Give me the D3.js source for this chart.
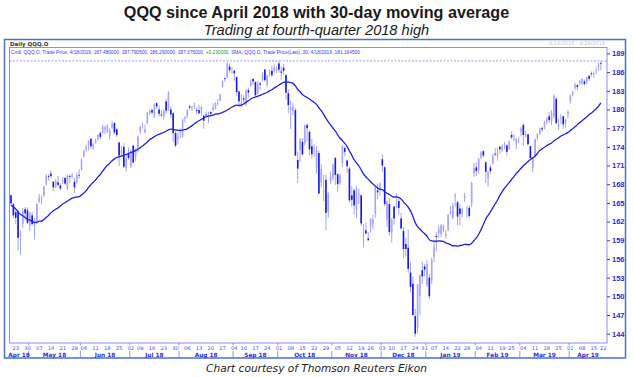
<!DOCTYPE html>
<html>
<head>
<meta charset="utf-8">
<script src="https://cdn.jsdelivr.net/npm/d3@7"></script>
<style>
  body { margin: 0; background: #fff; }
  svg { display: block; }
</style>
</head>
<body>
<div id="chart"></div>
<script>
// daily candles [open, high, low, close], one array per month
var apr18 = [
  [166.2,166.4,164.5,164.9],[164.8,165.0,162.5,163.0],[163.5,164.0,161.6,162.6],[163.6,163.8,157.3,159.4],
  [159.6,160.6,156.6,160.1],[161.6,164.2,161.0,163.7],[164.0,164.3,162.2,163.3],[163.8,164.3,161.6,161.8]
];
var may18 = [
  [161.3,163.6,160.5,163.4],[163.0,163.5,161.4,161.6],[161.3,162.6,159.1,162.2],[161.8,165.0,161.6,164.8],
  [165.2,166.5,165.0,165.9],[165.8,166.2,164.7,165.8],[166.2,167.7,165.9,167.6],[168.0,169.6,167.8,169.4],
  [169.3,169.6,168.6,169.2],[169.7,170.2,169.0,169.3],[168.4,168.5,166.9,167.5],[167.6,168.8,167.4,168.5],
  [168.3,169.3,167.6,167.9],[167.8,168.2,167.0,167.3],[168.5,169.1,168.0,168.6],[169.0,169.2,167.9,168.1],
  [167.3,169.5,167.1,169.4],[169.3,169.6,168.2,169.2],[169.2,169.8,168.9,169.5],[168.4,169.0,166.6,167.5],
  [168.3,169.8,168.1,169.4],[169.5,170.4,168.9,169.4]
];
var jun18 = [
  [170.3,172.1,170.2,172.0],[172.5,173.6,172.3,173.3],[173.6,174.3,173.2,174.0],[174.3,175.0,173.4,175.0],
  [175.3,175.4,173.6,174.1],[173.8,174.6,173.5,174.5],[174.7,175.3,174.5,175.0],[175.2,176.0,175.0,175.9],
  [176.2,176.5,175.2,175.6],[176.3,177.5,176.1,177.3],[176.8,177.4,176.0,177.1],[176.4,177.6,176.2,177.4],
  [175.8,177.0,175.2,176.6],[177.1,178.2,176.9,177.7],[177.8,178.0,176.0,176.3],[176.8,177.0,175.6,175.9],
  [174.7,174.8,170.9,172.6],[172.8,174.2,172.4,173.5],[174.0,174.6,170.6,170.8],[170.6,172.7,170.0,172.2],
  [173.0,173.9,171.9,172.2]
];
var jul18 = [
  [170.9,173.5,170.6,173.4],[174.2,174.3,171.3,171.5],[172.4,173.8,171.7,173.7],[173.6,175.8,173.1,175.6],
  [176.5,177.3,176.0,177.3],[177.6,177.9,176.9,177.6],[176.3,177.6,176.2,176.8],[177.8,179.6,177.6,179.5],
  [179.5,180.0,179.1,179.8],[179.9,180.1,179.2,179.5],[178.8,181.0,178.6,180.8],[181.0,181.1,180.1,180.5],
  [180.0,180.6,178.9,179.3],[179.2,179.9,178.8,179.1],[178.9,180.0,178.4,179.8],[181.3,181.7,179.3,179.8],
  [180.0,182.9,179.8,182.7],[180.0,180.5,178.6,179.2],[179.4,179.6,174.8,176.2],[176.2,176.5,173.9,174.2],
  [175.2,176.3,174.4,175.6]
];
var aug18 = [
  [176.3,176.9,175.4,176.4],[175.6,178.5,175.5,178.4],[178.6,178.9,177.9,178.8],[178.9,180.0,178.6,179.9],
  [180.5,180.8,180.0,180.3],[180.2,180.6,179.8,180.3],[180.4,181.1,180.1,180.6],[179.9,180.3,179.2,179.8],
  [179.9,180.7,179.2,179.4],[179.9,180.6,179.1,180.4],[179.0,179.2,176.9,178.2],[179.2,179.7,178.7,179.1],
  [178.8,179.6,177.8,179.1],[179.6,179.7,178.9,179.3],[179.9,181.0,179.7,180.3],[180.1,181.2,180.0,181.0],
  [181.0,181.7,180.6,181.0],[181.5,182.5,181.3,182.4],[183.6,184.7,183.5,184.5],[185.0,185.3,184.4,184.9],
  [185.2,187.6,185.0,187.3],[186.9,187.4,185.8,186.3],[186.3,186.8,185.7,186.4]
];
var sep18 = [
  [186.2,186.4,184.6,185.8],[185.2,185.3,182.2,182.8],[182.9,183.0,180.5,181.3],[180.6,182.5,180.4,181.0],
  [181.8,182.3,180.9,181.6],[180.8,183.3,180.5,183.0],[183.1,183.5,181.8,182.7],[183.8,184.8,183.6,184.5],
  [184.9,185.0,183.9,184.5],[184.4,184.5,182.0,182.3],[182.6,184.6,182.5,184.1],[184.2,184.4,183.1,184.0],
  [184.8,186.0,184.6,185.6],[186.4,186.5,184.5,184.7],[184.0,185.6,183.6,185.4],[185.8,186.4,185.3,186.1],
  [186.2,187.0,185.2,185.5],[186.1,187.2,185.9,186.7],[186.2,186.9,185.8,186.6]
];
var oct18 = [
  [187.4,187.8,185.9,186.4],[186.1,186.9,184.8,185.9],[186.7,187.3,185.6,186.2],[185.5,185.7,181.6,182.7],
  [182.6,183.2,179.4,180.7],[179.9,181.4,176.9,180.3],[179.8,181.1,179.1,180.4],[179.9,180.2,172.5,172.6],
  [171.9,173.2,168.2,170.5],[173.5,175.4,171.6,175.2],[174.8,175.4,172.6,172.8],[174.6,177.6,174.2,177.4],
  [177.5,177.8,174.9,177.0],[176.4,176.6,172.6,173.6],[174.1,175.3,172.1,172.8],[173.7,174.4,172.3,173.8],
  [170.6,174.2,169.7,173.4],[173.0,173.4,166.4,166.5],[168.3,171.2,167.6,170.4],[166.8,169.5,165.3,166.9],
  [168.7,169.5,160.6,163.4],[163.6,166.7,162.6,166.5],[168.5,170.0,168.0,169.2]
];
var nov18 = [
  [169.0,171.3,168.6,171.1],[172.2,172.4,167.9,169.5],[169.6,169.7,166.8,168.0],[168.2,169.7,167.9,169.4],
  [171.4,174.3,170.7,174.2],[173.8,174.1,172.5,173.2],[171.8,171.9,169.8,170.9],[170.5,170.8,165.1,165.4],
  [166.2,167.7,164.3,165.5],[167.0,167.3,163.1,164.6],[163.9,167.7,162.6,167.3],[166.3,167.3,164.8,166.4],
  [166.2,166.4,161.3,161.7],[159.0,161.6,157.8,159.1],[160.6,161.9,160.0,160.1],[159.3,160.3,158.9,159.0],
  [161.2,162.5,160.2,162.5],[161.7,163.1,160.8,162.4],[163.3,167.6,162.6,167.5],[167.0,168.1,165.6,166.7],
  [167.3,168.3,166.2,168.1]
];
var dec18 = [
  [172.0,172.8,170.0,171.0],[170.7,170.9,164.5,164.8],[162.3,165.4,161.1,165.2],[164.8,165.7,159.7,160.3],
  [160.2,162.6,158.6,162.2],[164.4,164.5,161.5,162.5],[164.3,166.5,164.1,164.6],[165.3,165.7,163.0,164.2],
  [162.5,163.4,160.7,160.9],[160.5,161.1,156.1,157.6],[158.4,159.4,156.4,157.6],[157.8,160.7,153.8,154.4],
  [153.8,155.5,150.6,151.5],[152.0,153.2,146.8,147.0],[146.8,148.0,143.5,144.0],[144.9,152.0,144.0,151.9],
  [150.0,153.5,147.0,153.4],[154.2,155.6,152.0,153.2],[154.8,155.2,153.2,154.3]
];
var jan19 = [
  [151.8,155.8,151.5,155.2],[153.0,153.6,149.6,150.0],[152.5,156.2,152.0,155.8],[156.3,158.9,155.5,157.9],
  [159.7,160.3,157.3,159.5],[160.1,161.4,159.4,160.8],[160.0,161.6,159.5,161.4],[160.6,161.5,160.3,161.3],
  [159.7,160.6,159.3,160.0],[160.6,163.2,160.5,163.1],[163.3,164.5,163.1,163.6],[162.6,165.0,162.4,164.6],
  [166.0,166.6,164.4,166.2],[165.1,165.3,161.4,162.8],[164.1,164.8,161.4,163.2],[163.3,164.2,162.7,164.0],
  [165.8,166.6,165.1,166.1],[164.0,164.5,162.7,164.1],[164.2,164.6,162.5,162.9],[164.9,168.4,164.3,168.2],
  [169.7,171.4,169.2,170.6]
];
var feb19 = [
  [170.7,171.5,169.3,170.1],[170.3,172.2,169.7,172.1],[172.3,173.3,172.0,173.1],[173.3,173.4,172.3,172.6],
  [171.5,171.7,168.2,170.0],[168.9,170.1,167.6,170.0],[170.7,171.1,169.7,170.1],[171.3,172.9,171.2,172.5],
  [172.9,173.8,172.5,172.8],[172.6,173.8,171.8,173.0],[174.0,174.2,172.9,173.6],[173.4,174.4,173.2,174.1],
  [174.3,174.8,173.6,174.3],[174.2,174.4,172.6,173.2],[173.7,175.0,173.5,174.9],[175.9,176.5,175.3,175.5],
  [175.2,176.1,174.9,175.3],[174.6,175.4,173.6,175.3],[175.0,175.6,174.6,175.0]
];
var mar19 = [
  [176.5,177.2,175.7,176.9],[177.5,177.8,174.1,175.9],[175.9,176.5,175.5,176.0],[176.0,176.1,174.3,174.4],
  [174.1,174.2,171.9,172.2],[170.6,172.4,169.9,172.2],[172.4,175.3,172.3,175.2],[175.4,176.2,175.0,176.0],
  [176.2,177.1,175.9,176.9],[177.0,177.3,176.4,176.8],[177.1,178.2,176.8,177.9],[178.0,178.8,177.6,178.4],
  [178.9,179.6,177.8,178.3],[178.1,179.9,177.5,179.4],[178.9,182.5,178.6,182.2],[181.7,182.0,177.6,177.8],
  [177.2,178.5,176.7,177.6],[178.6,179.3,177.6,178.7],[178.9,179.0,176.8,177.6],[177.9,178.5,177.0,178.3],
  [179.2,179.9,178.6,179.6]
];
var apr19 = [
  [181.2,182.4,180.9,182.3],[182.4,183.0,182.1,182.9],[183.5,184.3,183.1,183.9],[183.9,184.1,183.1,183.6],
  [184.2,184.7,183.9,184.6],[184.2,185.0,183.9,184.9],[184.5,184.8,183.8,184.1],[184.4,185.3,184.1,185.1],
  [185.4,185.5,184.6,184.9],[185.8,186.1,185.3,185.7],[185.7,186.1,185.1,185.8],[186.3,186.8,185.7,186.3],
  [186.8,187.5,186.2,187.15],[187.48,187.7905,186.29,187.375]
];
// closes before the first candle (Mar 8 - Apr 18 2018), only used to seed the 30-day SMA
var warmupCloses = [169.5,172.5,173.5,171.7,171.2,171.0,170.6,167.5,168.0,167.5,164.3,159.6,165.3,160.1,
  158.8,160.1,156.3,158.5,161.0,162.0,157.9,158.5,162.0,161.1,163.0,162.2,164.1,167.2,167.4];

var smaPeriod = 30;
var lastLine = 187.79;
var yTicks = d3.range(144, 190, 3);
var holidays = ["2018-05-28","2018-07-04","2018-09-03","2018-11-22","2018-12-05","2018-12-25",
  "2019-01-01","2019-01-21","2019-02-18","2019-04-19"];
var monthNames = ["Jan","Feb","Mar","Apr","May","Jun","Jul","Aug","Sep","Oct","Nov","Dec"];

function drawChart () {
  var candles = [].concat(apr18, may18, jun18, jul18, aug18, sep18, oct18, nov18, dec18, jan19, feb19, mar19, apr19);

  // trading calendar (weekends + exchange holidays skipped), a few days past the data for the axis
  var days = [];
  var dt = new Date(Date.UTC(2018, 3, 19));
  while (days.length < candles.length + 3) {
    var iso = dt.toISOString().slice(0, 10);
    var wd = dt.getUTCDay();
    if (wd != 0 && wd != 6 && holidays.indexOf(iso) < 0) days.push(new Date(dt));
    dt.setUTCDate(dt.getUTCDate() + 1);
  }

  var allCloses = warmupCloses.concat(candles.map(function(c) { return c[3]; }));
  var sma = candles.map(function(c, i) {
    var k = i + warmupCloses.length;
    return { i: i, v: d3.mean(allCloses.slice(k - smaPeriod + 1, k + 1)) };
  });

  var width = 633, height = 377;
  var pLeft = 9.5, pRight = 607, pTop = 47.5, pBottom = 343;

  var svg = d3.select("#chart").append("svg").attr("width", width).attr("height", height);

  var x = d3.scaleLinear().domain([-0.65, 253.6]).range([pLeft, pRight]);
  var y = d3.scaleLinear().domain([142.5, 189.95]).range([pBottom, pTop]);

  // titles
  svg.append("text").attr("x", 316.5).attr("y", 18).attr("text-anchor", "middle")
    .attr("font-family", "Liberation Sans, Arial, sans-serif").attr("font-weight", "bold")
    .attr("font-size", "16.2px").attr("fill", "#1a1a1a")
    .text("QQQ since April 2018 with 30-day moving average");
  svg.append("text").attr("x", 316.5).attr("y", 35).attr("text-anchor", "middle")
    .attr("font-family", "Liberation Sans, Arial, sans-serif").attr("font-style", "italic")
    .attr("font-size", "14.6px").attr("fill", "#1a1a1a")
    .text("Trading at fourth-quarter 2018 high");

  // frames
  svg.append("rect").attr("x", 4.5).attr("y", 39.5).attr("width", 621).attr("height", 318.5)
    .attr("fill", "none").attr("stroke", "#4a6fd0").attr("stroke-width", 1.5);
  svg.append("rect").attr("x", pLeft).attr("y", pTop).attr("width", pRight - pLeft).attr("height", pBottom - pTop)
    .attr("fill", "#fff").attr("stroke", "#8c8cf0").attr("stroke-width", 1);

  svg.append("text").attr("x", 10).attr("y", 45.5)
    .attr("font-family", "DejaVu Sans, sans-serif").attr("font-weight", "bold")
    .attr("font-size", "5.5px").attr("fill", "#333")
    .text("Daily QQQ.O");
  svg.append("text").attr("x", 605).attr("y", 45).attr("text-anchor", "end")
    .attr("font-family", "DejaVu Sans, sans-serif").attr("font-size", "5px").attr("fill", "#c4c4d4")
    .text("4/19/2018 - 4/24/2019");

  var legend = svg.append("text").attr("x", 11).attr("y", 53.5)
    .attr("font-family", "Liberation Sans, Arial, sans-serif").attr("font-size", "4.8px").attr("fill", "#3a3af0");
  legend.append("tspan").text("Cndl, QQQ.O, Trade Price, 4/18/2019, 187.480000, 187.790500, 186.290000, 187.375000, ");
  legend.append("tspan").attr("fill", "#1a9a1a").text("+0.230000");
  legend.append("tspan").text(", SMA, QQQ.O, Trade Price(Last), 30, 4/18/2019, 181.164500");

  // last price line
  svg.append("line").attr("x1", pLeft).attr("x2", pRight).attr("y1", y(lastLine)).attr("y2", y(lastLine))
    .attr("stroke", "#7a7af5").attr("stroke-width", 0.8).attr("stroke-dasharray", "2,1.5");

  // candles
  var cg = svg.append("g").selectAll(".candle").data(candles).enter().append("g").attr("class", "candle");
  cg.append("line")
    .attr("x1", function(d, i) { return x(i); }).attr("x2", function(d, i) { return x(i); })
    .attr("y1", function(d) { return y(d[1]); }).attr("y2", function(d) { return y(d[2]); })
    .attr("stroke", "#a4a4fb").attr("stroke-width", 1);
  cg.append("rect")
    .attr("x", function(d, i) { return x(i) - 0.8; })
    .attr("width", 1.6)
    .attr("y", function(d) { return y(Math.max(d[0], d[3])); })
    .attr("height", function(d) { return Math.max(0.8, Math.abs(y(d[0]) - y(d[3]))); })
    .attr("fill", function(d) { return d[3] < d[0] ? "#1616e6" : "#a6a6fb"; });

  // moving average
  var line = d3.line().x(function(d) { return x(d.i); }).y(function(d) { return y(d.v); })
    .curve(d3.curveMonotoneX);
  svg.append("path").datum(sma).attr("d", line)
    .attr("fill", "none").attr("stroke", "#2121e0").attr("stroke-width", 1.3);

  // right axis
  var yAxis = d3.axisRight(y).tickValues(yTicks).tickSize(3).tickPadding(2);
  var ya = svg.append("g").attr("transform", "translate(" + pRight + ",0)").call(yAxis);
  ya.select(".domain").remove();
  ya.selectAll("line").attr("stroke", "#3a3ae0");
  ya.selectAll("text").attr("font-family", "Liberation Sans, Arial, sans-serif").attr("font-weight", "bold")
    .attr("font-size", "7.5px").attr("fill", "#2a2ad8");

  // bottom axis: weekly day labels and month bands
  var weekStarts = [];
  days.forEach(function(d, i) {
    if (i == 0) return;
    var prev = days[i - 1];
    if (d.getUTCDay() < prev.getUTCDay() || (d - prev) > 3 * 86400000) weekStarts.push(i);
  });
  weekStarts = weekStarts.filter(function(i) { return x(i) < pRight; });

  var xa = svg.append("g");
  xa.selectAll(".day").data(weekStarts).enter().append("text")
    .attr("x", function(i) { return x(i); }).attr("y", 350)
    .attr("text-anchor", "middle")
    .attr("font-family", "DejaVu Sans, sans-serif").attr("font-size", "5.2px").attr("fill", "#5050f0")
    .text(function(i) { return d3.format("02d")(days[i].getUTCDate()); });

  var monthStarts = [0];
  days.forEach(function(d, i) {
    if (i > 0 && d.getUTCMonth() != days[i - 1].getUTCMonth() && x(i) < pRight) monthStarts.push(i);
  });
  var bounds = monthStarts.map(function(i, k) { return k == 0 ? pLeft : x(i - 0.5); });
  bounds.push(pRight);

  xa.selectAll(".sep").data(bounds.slice(1, -1)).enter().append("line")
    .attr("x1", function(d) { return d; }).attr("x2", function(d) { return d; })
    .attr("y1", 351).attr("y2", 358).attr("stroke", "#7a7af0").attr("stroke-width", 0.8);
  xa.selectAll(".tk").data(bounds.slice(1, -1)).enter().append("line")
    .attr("x1", function(d) { return d; }).attr("x2", function(d) { return d; })
    .attr("y1", pBottom).attr("y2", pBottom + 2.5).attr("stroke", "#7a7af0").attr("stroke-width", 0.8);
  xa.selectAll(".mon").data(monthStarts).enter().append("text")
    .attr("x", function(i, k) { return (bounds[k] + bounds[k + 1]) / 2; }).attr("y", 356.5)
    .attr("text-anchor", "middle")
    .attr("font-family", "DejaVu Sans, sans-serif").attr("font-weight", "bold")
    .attr("font-size", "5.8px").attr("fill", "#2f2fd0")
    .text(function(i) { return monthNames[days[i].getUTCMonth()] + " " + String(days[i].getUTCFullYear()).slice(2); });

  svg.append("text").attr("x", 316.5).attr("y", 372).attr("text-anchor", "middle")
    .attr("font-family", "DejaVu Sans, sans-serif").attr("font-style", "italic")
    .attr("font-size", "10.6px").attr("fill", "#222")
    .text("Chart courtesy  of Thomson Reuters  Eikon");
}

drawChart();
</script>
</body>
</html>
